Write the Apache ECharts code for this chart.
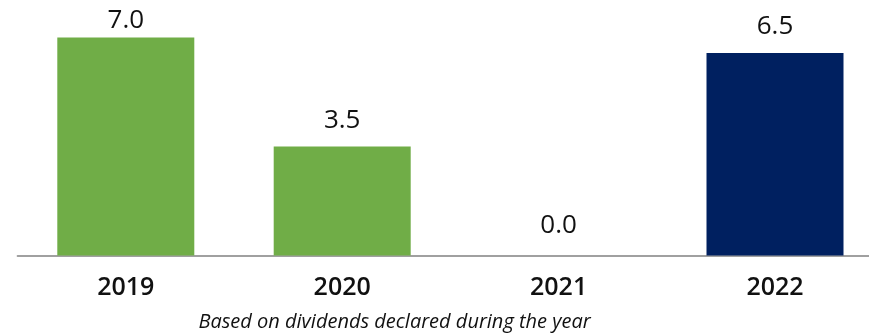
<!DOCTYPE html>
<html>
<head>
<meta charset="utf-8">
<script src="https://cdn.jsdelivr.net/npm/echarts@6/dist/echarts.min.js"></script>
<style>
  html, body { margin: 0; padding: 0; background: #fff; }
  #chart { width: 869px; height: 334px; }
</style>
</head>
<body>
<div id="chart"></div>
<script>
// Dividends per year (declared during the year)
const years = ['2019', '2020', '2021', '2022'];
const dividends = [7.0, 3.5, 0.0, 6.5];
const footnote = 'Based on dividends declared during the year';

const GREEN = '#70AD47';
const NAVY = '#002060';
const barColors = [GREEN, GREEN, GREEN, NAVY];
// gap between each value label and its bar top
const labelGaps = [4, 13, 17, 13];

const chart = echarts.init(document.getElementById('chart'), null, { renderer: 'canvas' });

chart.setOption({
  animation: false,
  // plot area runs past the right edge so the last bar sits near it
  grid: {
    left: 17.6, width: 865.6, top: 37.5, bottom: 78.5,
    containLabel: false,
    outerBoundsMode: 'none'
  },
  xAxis: {
    type: 'category',
    data: years,
    axisLine: { show: true, lineStyle: { color: '#a0a0a0', width: 2 } },
    axisTick: { show: false },
    axisLabel: {
      color: '#111',
      fontFamily: 'Open Sans',
      fontWeight: 600,
      fontSize: 25,
      margin: 20
    }
  },
  yAxis: {
    type: 'value',
    min: 0,
    max: 7,
    show: false,
    splitLine: { show: false }
  },
  series: [{
    type: 'bar',
    barWidth: 137,
    data: dividends.map((v, i) => ({
      value: v,
      itemStyle: { color: barColors[i] },
      label: { distance: labelGaps[i] }
    })),
    label: {
      show: true,
      position: 'top',
      color: '#111',
      fontFamily: 'Open Sans',
      fontSize: 26,
      formatter: p => p.value.toFixed(1)
    }
  }],
  graphic: [{
    type: 'text',
    x: 394.5,
    y: 322,
    style: {
      text: footnote,
      fill: '#111',
      font: 'italic 20px "Open Sans"',
      textAlign: 'center',
      textVerticalAlign: 'middle'
    }
  }]
});
</script>
</body>
</html>
